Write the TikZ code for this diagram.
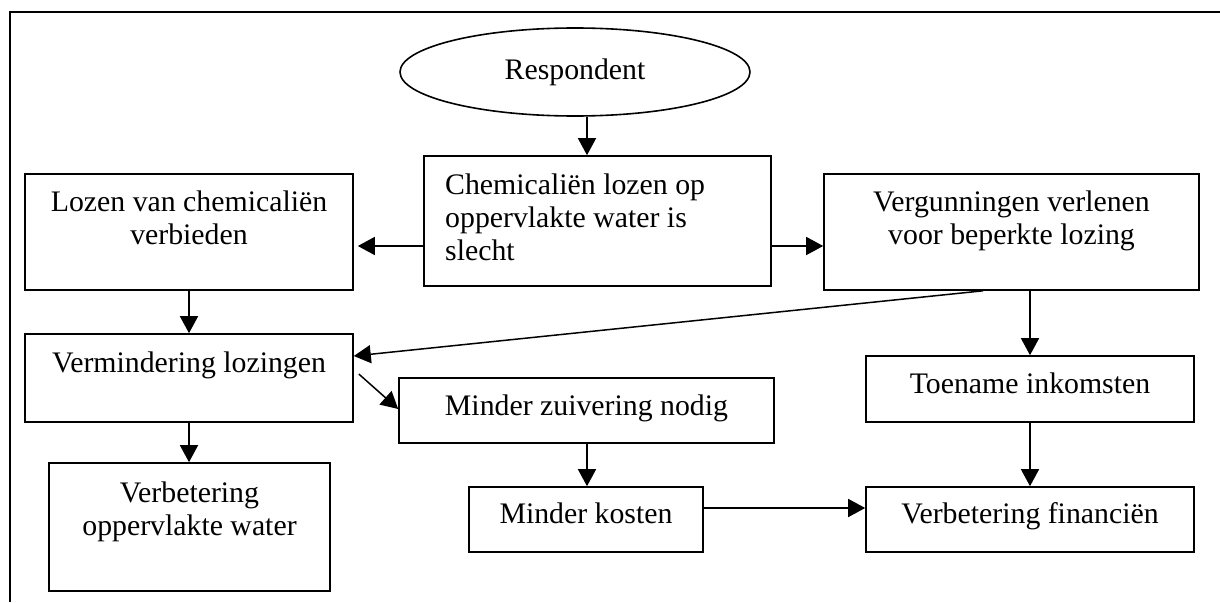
\documentclass[tikz,border=0pt]{standalone}
\usepackage{fontspec}
\setmainfont{Liberation Serif}
\usetikzlibrary{shapes.geometric,arrows.meta}
\begin{document}
\begin{tikzpicture}[x=1pt,y=-1pt,
  every node/.style={font=\fontsize{29.8}{33}\selectfont},
  box/.style={draw,line width=1.6pt,rectangle,inner sep=0pt},
  txt/.style={inner sep=0pt,align=center,anchor=base},
  arr/.style={line width=1.5pt,-{Triangle[length=17pt,width=18pt]}}]
\useasboundingbox (0,0) rectangle (1220,602);
% frame
\draw[line width=1.6pt] (10,602) -- (10,12) -- (1220,12);
% nodes
\node[draw,line width=1.6pt,ellipse,minimum width=350pt,minimum height=88pt,inner sep=0pt] (resp) at (575,72) {Respondent};
\node[box,minimum width=347pt,minimum height=130pt] (chem) at (597.5,221) {};
\node[inner sep=0pt,align=left,anchor=base west] (chemt) at (445,260) {Chemicaliën lozen op\\oppervlakte water is\\slecht};
\node[box,minimum width=328pt,minimum height=116pt] (lozen) at (189,232) {};
\node[txt] (lozent) at (189,244) {Lozen van chemicaliën\\verbieden};
\node[box,minimum width=375pt,minimum height=116pt] (verg) at (1011.5,232) {};
\node[txt] (vergt) at (1011.5,244) {Vergunningen verlenen\\voor beperkte lozing};
\node[box,minimum width=328pt,minimum height=88pt] (verm) at (189,378) {};
\node[txt] (vermt) at (189,372) {Vermindering lozingen};
\node[box,minimum width=281pt,minimum height=128pt] (verbw) at (189.5,527) {};
\node[txt] (verbwt) at (189.5,535) {Verbetering\\oppervlakte water};
\node[box,minimum width=375pt,minimum height=65pt] (mzn) at (586.5,410.5) {};
\node[txt] (mznt) at (586.5,415) {Minder zuivering nodig};
\node[box,minimum width=234pt,minimum height=65pt] (mk) at (586,519.5) {};
\node[txt] (mkt) at (586,523) {Minder kosten};
\node[box,minimum width=328pt,minimum height=66pt] (toen) at (1030,389) {};
\node[txt] (toent) at (1030,393) {Toename inkomsten};
\node[box,minimum width=328pt,minimum height=65pt] (vf) at (1030,519.5) {};
\node[txt] (vft) at (1030,523) {Verbetering financiën};
% connectors
\draw[arr] ([xshift=12pt]resp.south) -- ([xshift=12pt]resp.south |- chem.north);
\draw[arr] ([yshift=-25pt]chem.west) -- ([yshift=-25pt,xshift=4pt]chem.west -| lozen.east);
\draw[arr] ([yshift=-25pt]chem.east) -- ([yshift=-25pt]chem.east -| verg.west);
\draw[arr] (lozen.south) -- (verm.north);
\draw[arr] (verm.south) -- (verm.south |- verbw.north);
\draw[arr] ([xshift=-28.5pt]verg.south) -- ([yshift=22pt]verm.east);
\draw[arr] ([xshift=5pt,yshift=4pt]verm.east) -- ([yshift=1.5pt]mzn.west);
\draw[arr] ([xshift=0.5pt]mzn.south) -- ([xshift=0.5pt]mzn.south |- mk.north);
\draw[arr] ([yshift=11.5pt]mk.east) -- ([yshift=11.5pt]mk.east -| vf.west);
\draw[arr] (toen.north |- verg.south) -- (toen.north);
\draw[arr] (toen.south) -- (vf.north);
\end{tikzpicture}
\end{document}
